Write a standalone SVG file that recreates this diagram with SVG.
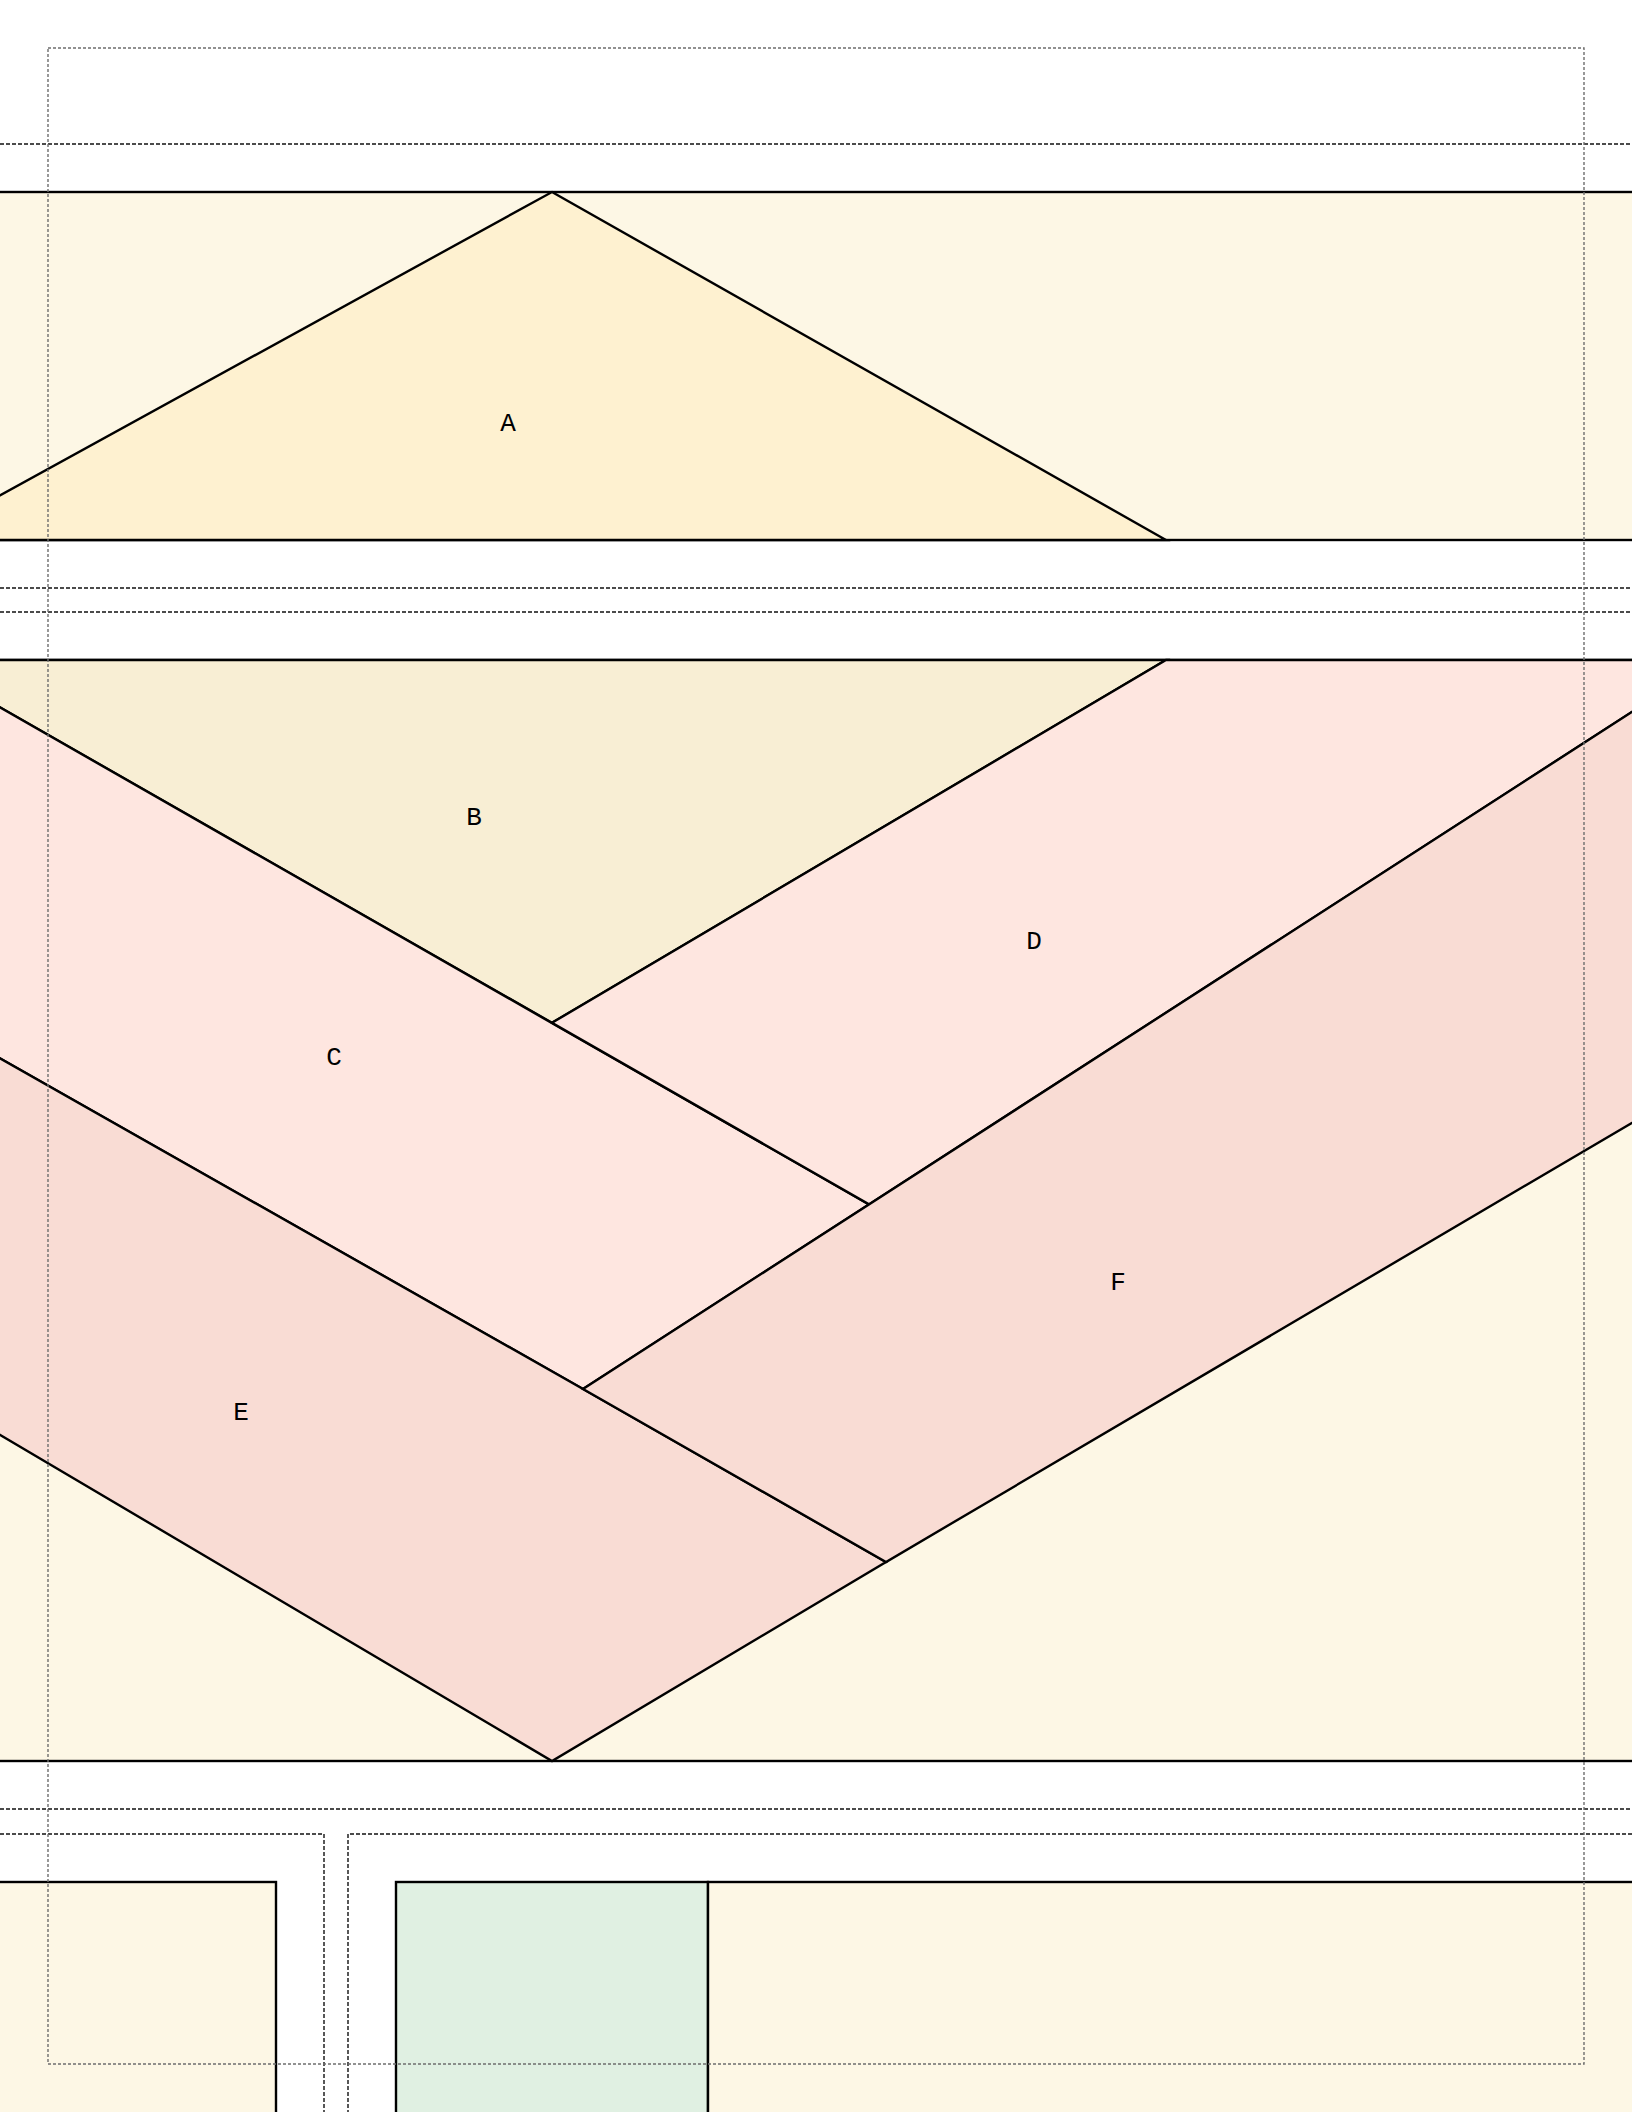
<svg xmlns="http://www.w3.org/2000/svg" width="1632" height="2112" viewBox="0 0 1632 2112">
<style>
.edge{stroke:#000;stroke-width:2.4;stroke-linejoin:miter}
.band{fill:#fdf7e5}
.a{fill:#fef1d0}
.b{fill:#f8eed4}
.cd{fill:#fee6e0}
.ef{fill:#f9dcd4}
.g{fill:#e0f0e2}
.guide{fill:none;stroke:#111;stroke-width:1.4;stroke-dasharray:4,2}
.margin{fill:none;stroke:#6e6e6e;stroke-width:1.4;stroke-dasharray:3,2}
.lbl{font-family:"Courier New","Liberation Mono",monospace;font-size:26px;fill:#000;text-anchor:middle}
</style>
<rect x="0" y="0" width="1632" height="2112" fill="#fff"/>
<g id="guides">
<line class="guide" x1="0" y1="144" x2="1632" y2="144"/>
<line class="guide" x1="0" y1="588" x2="1632" y2="588"/>
<line class="guide" x1="0" y1="612" x2="1632" y2="612"/>
<line class="guide" x1="0" y1="1809" x2="1632" y2="1809"/>
<polyline class="guide" points="0,1834 324,1834 324,2120"/>
<polyline class="guide" points="348,2120 348,1834 1640,1834"/>
</g>
<g id="band-top">
<rect class="band edge" x="-10" y="192" width="1652" height="348"/>
</g>
<g id="node-A">
<polygon class="a edge" points="552,192 1166,540 -81,540"/>
<text class="lbl" x="508" y="431">A</text>
</g>
<g id="band-mid">
<rect class="band edge" x="-10" y="660" width="1652" height="1101"/>
</g>
<g id="node-B">
<polygon class="b edge" points="-20,660 1166,660 552,1022.8 -20,696"/>
<text class="lbl" x="474" y="825">B</text>
</g>
<g id="node-C">
<polygon class="cd edge" points="-20,696 869,1204.4 583,1389 -20,1047"/>
<text class="lbl" x="334" y="1065">C</text>
</g>
<g id="node-D">
<polygon class="cd edge" points="1166,660 1652,660 1652,699 869,1204.4 552,1022.8"/>
<text class="lbl" x="1034" y="949">D</text>
</g>
<g id="node-E">
<polygon class="ef edge" points="-20,1047 583,1389 886,1562 552,1761 -20,1423"/>
<text class="lbl" x="241" y="1420">E</text>
</g>
<g id="node-F">
<polygon class="ef edge" points="583,1389 1652,699 1652,1111 886,1562"/>
<text class="lbl" x="1118" y="1290">F</text>
</g>
<g id="bottom">
<g id="node-left"><rect class="band edge" x="-10" y="1882" width="286" height="250"/></g>
<g id="node-green"><rect class="g edge" x="396" y="1882" width="312" height="250"/></g>
<g id="node-right"><rect class="band edge" x="708" y="1882" width="944" height="250"/></g>
</g>
<g id="connectors"></g>
<rect class="margin" x="48" y="48" width="1536" height="2016"/>
</svg>
